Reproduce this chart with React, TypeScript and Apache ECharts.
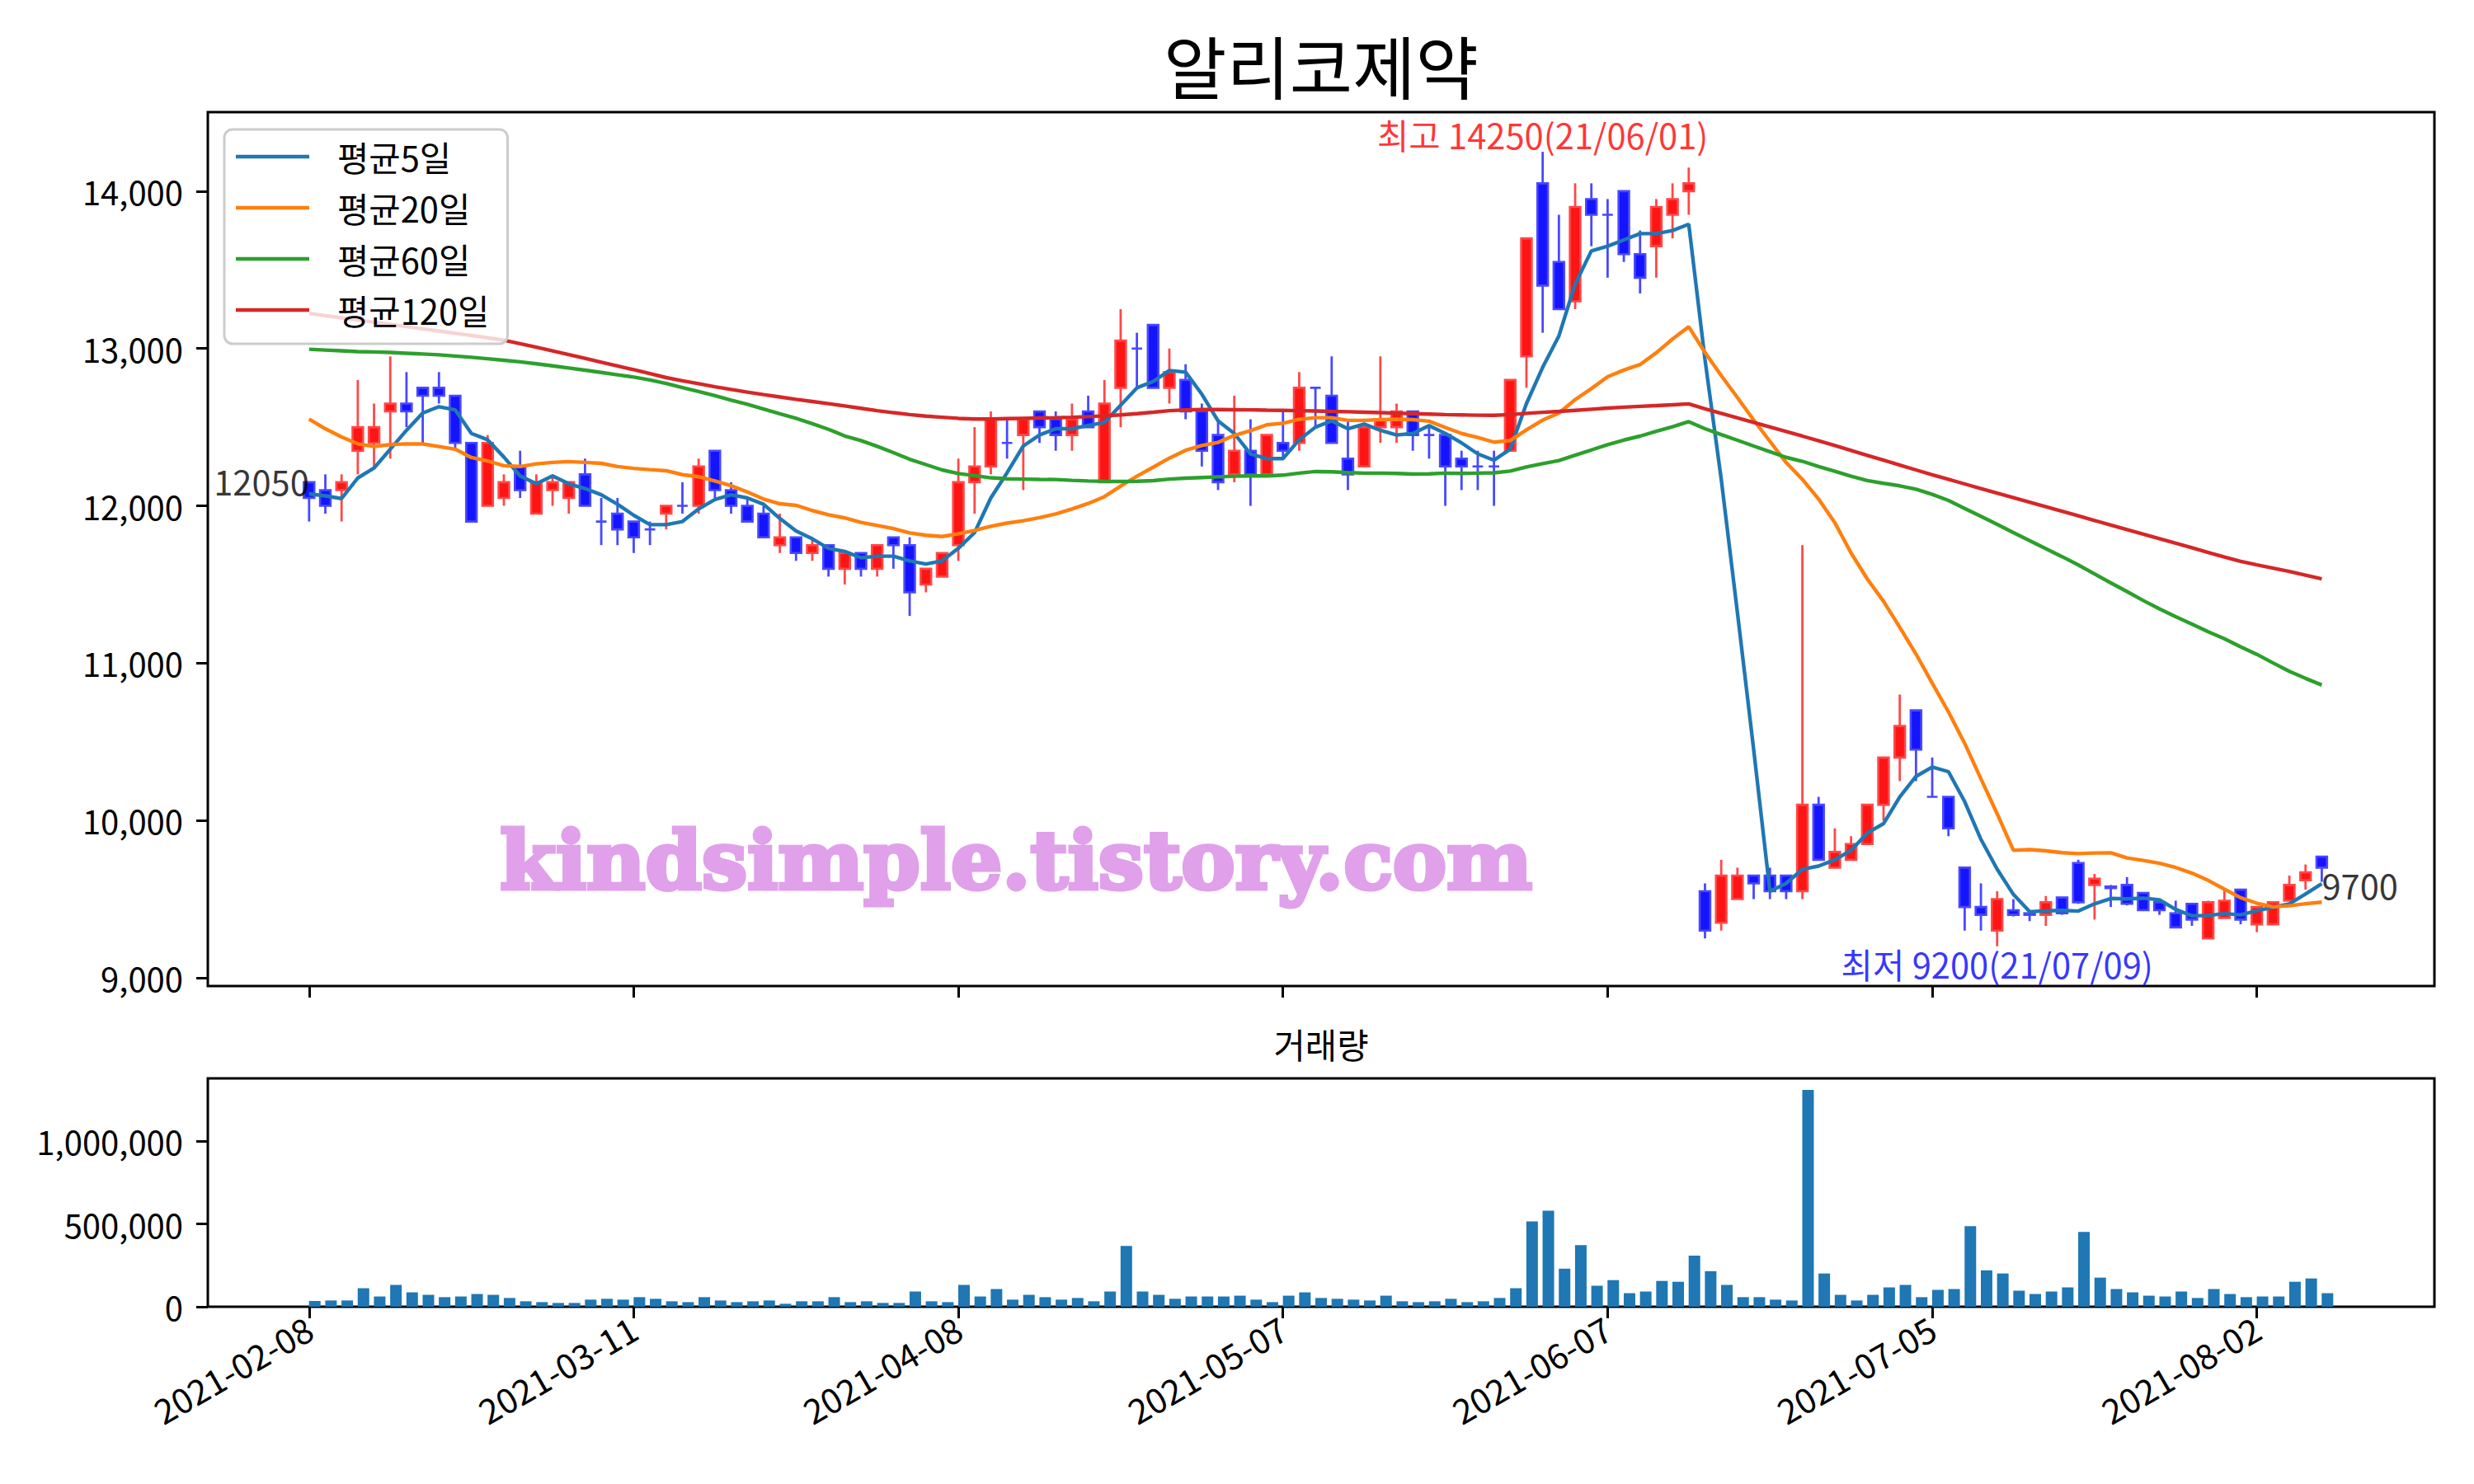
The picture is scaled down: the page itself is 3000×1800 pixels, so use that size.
import React, { useEffect, useRef } from "react";
import * as echarts from "echarts";

const dates = [
  "2021-02-08","2021-02-09","2021-02-10","2021-02-15","2021-02-16","2021-02-17","2021-02-18","2021-02-19","2021-02-22","2021-02-23",
  "2021-02-24","2021-02-25","2021-02-26","2021-03-02","2021-03-03","2021-03-04","2021-03-05","2021-03-08","2021-03-09","2021-03-10",
  "2021-03-11","2021-03-12","2021-03-15","2021-03-16","2021-03-17","2021-03-18","2021-03-19","2021-03-22","2021-03-23","2021-03-24",
  "2021-03-25","2021-03-26","2021-03-29","2021-03-30","2021-03-31","2021-04-01","2021-04-02","2021-04-05","2021-04-06","2021-04-07",
  "2021-04-08","2021-04-09","2021-04-12","2021-04-13","2021-04-14","2021-04-15","2021-04-16","2021-04-19","2021-04-20","2021-04-21",
  "2021-04-22","2021-04-23","2021-04-26","2021-04-27","2021-04-28","2021-04-29","2021-04-30","2021-05-03","2021-05-04","2021-05-06",
  "2021-05-07","2021-05-10","2021-05-11","2021-05-12","2021-05-13","2021-05-14","2021-05-17","2021-05-18","2021-05-20","2021-05-21",
  "2021-05-24","2021-05-25","2021-05-26","2021-05-27","2021-05-28","2021-05-31","2021-06-01","2021-06-02","2021-06-03","2021-06-04",
  "2021-06-07","2021-06-08","2021-06-09","2021-06-10","2021-06-11","2021-06-14","2021-06-15","2021-06-16","2021-06-17","2021-06-18",
  "2021-06-21","2021-06-22","2021-06-23","2021-06-24","2021-06-25","2021-06-28","2021-06-29","2021-06-30","2021-07-01","2021-07-02",
  "2021-07-05","2021-07-06","2021-07-07","2021-07-08","2021-07-09","2021-07-12","2021-07-13","2021-07-14","2021-07-15","2021-07-16",
  "2021-07-19","2021-07-20","2021-07-21","2021-07-22","2021-07-23","2021-07-26","2021-07-27","2021-07-28","2021-07-29","2021-07-30",
  "2021-08-02","2021-08-03","2021-08-04","2021-08-05","2021-08-06"
];

const opens = [
  12150,12100,12100,12350,12400,12600,12650,12750,12750,12700,
  12400,12000,12050,12250,11950,12100,12050,12200,11900,11950,
  11900,11850,11950,12000,12000,12350,12100,12000,11950,11750,
  11800,11700,11750,11600,11700,11600,11800,11750,11500,11550,
  11750,12150,12250,12400,12450,12600,12550,12450,12600,12150,
  12750,13000,13150,12750,12800,12600,12450,12200,12350,12200,
  12400,12400,12750,12700,12300,12250,12500,12500,12600,12450,
  12450,12300,12250,12250,12350,12950,14050,13550,13300,13950,
  13850,14000,13600,13650,13850,14000,9550,9350,9500,9650,
  9650,9650,9550,10100,9700,9750,9850,10100,10400,10700,
  10150,10150,9700,9450,9300,9430,9410,9400,9510,9730,
  9590,9580,9590,9540,9480,9410,9470,9250,9380,9560,
  9340,9340,9490,9620,9770
];

const highs = [
  12150,12200,12200,12800,12650,12950,12850,12750,12850,12700,
  12400,12450,12200,12350,12200,12200,12150,12300,12050,12050,
  11900,11900,12000,12150,12300,12350,12150,12050,12000,11950,
  11800,11800,11750,11700,11700,11750,11800,11800,11600,11700,
  12300,12500,12600,12550,12550,12600,12600,12650,12700,12800,
  13250,13100,13150,13000,12900,12650,12550,12700,12550,12450,
  12600,12850,12750,12950,12550,12500,12950,12650,12600,12500,
  12450,12350,12350,12350,12800,13700,14250,13850,14050,14050,
  13950,14000,13750,13950,14050,14150,9600,9750,9700,9650,
  9700,9650,11750,10150,9950,9900,10100,10400,10800,10700,
  10400,10150,9700,9600,9550,9500,9430,9520,9510,9750,
  9660,9590,9640,9540,9480,9490,9470,9490,9560,9560,
  9450,9480,9650,9720,9770
];

const lows = [
  11900,11950,11900,12200,12250,12300,12500,12400,12650,12350,
  11900,12000,12000,12050,11950,12000,11950,12000,11750,11750,
  11700,11750,11850,11950,11950,12050,11950,11900,11800,11700,
  11650,11650,11550,11500,11550,11550,11600,11300,11450,11550,
  11650,11950,12200,12300,12100,12400,12350,12350,12500,12150,
  12500,12750,12750,12650,12550,12250,12100,12150,12000,12200,
  12300,12350,12500,12400,12100,12250,12400,12400,12350,12300,
  12000,12100,12100,12000,12350,12750,13100,13250,13250,13650,
  13450,13550,13350,13450,13700,13850,9250,9300,9500,9500,
  9500,9500,9500,9750,9700,9750,9850,10000,10250,10250,
  10150,9900,9300,9300,9200,9390,9360,9330,9400,9470,
  9370,9450,9460,9430,9400,9320,9330,9250,9380,9340,
  9290,9340,9490,9560,9610
];

const closes = [
  12050,12000,12150,12500,12500,12650,12600,12700,12700,12400,
  11900,12400,12150,12100,12150,12150,12150,12000,11900,11850,
  11800,11850,12000,12000,12250,12100,12000,11900,11800,11800,
  11700,11750,11600,11700,11600,11750,11750,11450,11600,11700,
  12150,12250,12550,12400,12550,12500,12450,12550,12500,12650,
  13050,13000,12750,12850,12600,12350,12150,12350,12200,12450,
  12350,12750,12750,12400,12200,12500,12550,12600,12450,12450,
  12250,12250,12250,12250,12800,13700,13400,13250,13900,13850,
  13850,13600,13450,13900,13950,14050,9300,9650,9650,9600,
  9550,9550,10100,9750,9800,9850,10100,10400,10600,10450,
  10150,9950,9450,9400,9500,9400,9400,9480,9410,9480,
  9630,9570,9470,9430,9430,9320,9370,9480,9490,9370,
  9450,9480,9590,9670,9700
];

const volumes = [
  35000,38000,38000,112000,62000,132000,87000,72000,58000,62000,
  77000,72000,53000,33000,28000,23000,23000,43000,48000,43000,
  58000,48000,33000,28000,58000,38000,28000,33000,38000,18000,
  33000,33000,58000,28000,33000,23000,23000,92000,33000,28000,
  132000,62000,107000,43000,72000,58000,43000,53000,33000,92000,
  368000,92000,72000,48000,62000,62000,62000,67000,43000,28000,
  67000,87000,53000,48000,43000,38000,67000,33000,28000,33000,
  48000,28000,33000,53000,112000,516000,581000,230000,373000,127000,
  161000,82000,92000,156000,151000,309000,215000,132000,58000,58000,
  43000,38000,1310000,201000,72000,38000,72000,117000,132000,58000,
  102000,107000,487000,220000,201000,97000,77000,92000,117000,452000,
  176000,107000,87000,67000,62000,92000,53000,107000,77000,58000,
  62000,62000,151000,171000,82000
];

const ma5 = [
  12076,12063,12046,12177,12240,12360,12480,12590,12630,12610,
  12460,12420,12310,12190,12140,12190,12140,12110,12070,12010,
  11940,11880,11880,11900,11980,12040,12070,12050,12010,11920,
  11840,11790,11730,11710,11670,11680,11680,11650,11630,11650,
  11730,11830,12050,12210,12380,12450,12490,12490,12510,12530,
  12640,12750,12790,12860,12850,12710,12540,12460,12330,12300,
  12300,12420,12500,12540,12490,12520,12480,12450,12460,12510,
  12460,12400,12330,12290,12360,12650,12880,13080,13410,13620,
  13650,13690,13730,13730,13750,13790,12930,12170,11320,10450,
  9550,9600,9690,9710,9750,9810,9920,9980,10150,10280,
  10340,10310,10120,9880,9690,9530,9420,9426,9428,9424,
  9470,9504,9502,9506,9496,9434,9394,9396,9408,9400,
  9426,9448,9470,9532,9598
];

const ma20 = [
  12551,12490,12438,12394,12377,12389,12394,12393,12377,12360,
  12307,12285,12255,12250,12267,12276,12281,12276,12270,12250,
  12238,12230,12223,12198,12185,12158,12128,12088,12043,12013,
  12003,11970,11943,11923,11895,11875,11855,11828,11813,11805,
  11823,11843,11870,11890,11905,11925,11948,11980,12015,12058,
  12125,12188,12245,12303,12353,12383,12403,12448,12478,12515,
  12525,12550,12560,12560,12543,12543,12548,12550,12548,12538,
  12498,12460,12435,12405,12415,12483,12545,12590,12675,12745,
  12820,12863,12898,12973,13060,13138,12975,12828,12688,12545,
  12410,12275,12168,12043,11893,11700,11535,11393,11228,11058,
  10873,10690,10490,10265,10043,9810,9815,9807,9795,9789,
  9793,9794,9762,9746,9728,9701,9665,9619,9563,9509,
  9474,9451,9458,9471,9481
];

const ma60 = [
  12995,12990,12985,12980,12978,12975,12970,12965,12960,12952,
  12944,12935,12925,12915,12903,12890,12876,12862,12848,12833,
  12818,12800,12778,12752,12726,12700,12672,12645,12615,12585,
  12556,12522,12486,12444,12415,12378,12338,12296,12262,12228,
  12205,12192,12178,12172,12170,12168,12167,12162,12158,12156,
  12155,12156,12160,12170,12176,12180,12184,12188,12190,12190,
  12195,12208,12218,12216,12211,12208,12208,12206,12202,12203,
  12208,12206,12208,12210,12221,12247,12268,12288,12322,12355,
  12389,12418,12443,12474,12503,12535,12490,12453,12417,12380,
  12344,12308,12283,12250,12220,12188,12161,12143,12127,12106,
  12073,12034,11983,11933,11882,11830,11779,11728,11677,11624,
  11567,11510,11455,11398,11345,11295,11248,11200,11155,11104,
  11056,11001,10948,10903,10861
];

const ma120 = [
  13223,13209,13195,13181,13167,13153,13139,13125,13111,13097,
  13083,13068,13053,13031,13008,12985,12961,12937,12913,12889,
  12865,12840,12815,12795,12776,12757,12740,12723,12707,12692,
  12677,12663,12649,12635,12620,12605,12592,12580,12570,12563,
  12556,12552,12552,12554,12556,12558,12560,12563,12567,12572,
  12578,12586,12595,12605,12610,12612,12612,12611,12610,12608,
  12607,12605,12603,12600,12598,12595,12592,12589,12586,12583,
  12580,12578,12576,12575,12580,12588,12594,12600,12607,12614,
  12621,12627,12632,12637,12642,12648,12617,12588,12559,12530,
  12501,12472,12443,12413,12383,12352,12321,12290,12259,12228,
  12197,12168,12139,12110,12081,12052,12023,11994,11965,11936,
  11907,11878,11849,11820,11791,11762,11733,11704,11675,11647,
  11625,11604,11583,11559,11536
];

const maNames = ["평균5일", "평균20일", "평균60일", "평균120일"];
const maColors = ["#1f77b4", "#ff7f0e", "#2ca02c", "#d62728"];
const tickIndex = [0, 20, 40, 60, 80, 100, 120];
const priceTicks = [9000, 10000, 11000, 12000, 13000, 14000];
const volumeTicks = [0, 500000, 1000000];
const chartTitle = "알리코제약";
const volumeTitle = "거래량";
const watermark = "kindsimple.tistory.com";

const FONT = "'Noto Sans CJK KR', 'Noto Sans', sans-serif";
const BAR_SHIFT = 0.35; // volume bars are edge-aligned (left edge at the date)
const BODY_W = 0.65;
const X_MIN = -6.24;
const X_MAX = 130.94;

function fmt(v: number) {
  return Math.round(v).toLocaleString("en-US");
}
function shortDate(d: string) {
  return d.slice(2).replace(/-/g, "/");
}

export default function App() {
  const ref = useRef<HTMLDivElement>(null);

  useEffect(() => {
    const chart = echarts.init(ref.current!, null, { renderer: "svg" });

    let maxIdx = 0;
    let minIdx = 0;
    highs.forEach((h, i) => { if (h > highs[maxIdx]) maxIdx = i; });
    lows.forEach((l, i) => { if (l < lows[minIdx]) minIdx = i; });
    const last = closes.length - 1;

    const candleData = dates.map((_, i) => [i, opens[i], closes[i], lows[i], highs[i]]);
    const maArrays = [ma5, ma20, ma60, ma120];

    const tickStyle = { show: true, length: 14, inside: false, lineStyle: { width: 3, color: "#000" } };

    const option: any = {
      animation: false,
      backgroundColor: "#ffffff",
      textStyle: { fontFamily: FONT },
      title: [
        {
          text: chartTitle, left: 1602, top: 28, textAlign: "center", padding: 0,
          textStyle: { fontSize: 83, fontWeight: "normal", color: "#000", fontFamily: FONT, lineHeight: 100 },
        },
        {
          text: volumeTitle, left: 1602, top: 1241, textAlign: "center", padding: 0,
          textStyle: { fontSize: 41.7, fontWeight: "normal", color: "#000", fontFamily: FONT, lineHeight: 50 },
        },
      ],
      legend: {
        data: maNames, orient: "vertical", left: 272, top: 157,
        padding: [12, 22, 20, 14], itemWidth: 89, itemHeight: 4.5, itemGap: 20,
        icon: "rect", selectedMode: false,
        backgroundColor: "rgba(255,255,255,0.8)", borderColor: "#cccccc", borderWidth: 3, borderRadius: 10,
        textStyle: { fontSize: 41.7, fontFamily: FONT, color: "#000", lineHeight: 42, padding: [0, 0, 0, 29] },
      },
      grid: [
        { left: 252, top: 136, width: 2700, height: 1060, show: true, borderColor: "#000", borderWidth: 3, backgroundColor: "transparent" },
        { left: 252, top: 1308, width: 2700, height: 277, show: true, borderColor: "#000", borderWidth: 3, backgroundColor: "transparent" },
      ],
      xAxis: [
        {
          type: "value", gridIndex: 0, min: X_MIN, max: X_MAX, position: "bottom",
          axisLine: { show: false, onZero: false }, splitLine: { show: false },
          axisTick: { ...tickStyle, customValues: tickIndex },
          axisLabel: { show: false },
        },
        {
          type: "value", gridIndex: 1, min: X_MIN, max: X_MAX, position: "bottom",
          axisLine: { show: false, onZero: false }, splitLine: { show: false },
          axisTick: { ...tickStyle, customValues: tickIndex },
          axisLabel: {
            show: true, customValues: tickIndex, rotate: 30, margin: 22,
            formatter: (v: number) => dates[Math.round(v)] ?? "",
            fontSize: 41.7, color: "#000", fontFamily: FONT,
          },
        },
      ],
      yAxis: [
        {
          type: "value", gridIndex: 0, min: 8947.5, max: 14502.5, position: "left",
          axisLine: { show: false, onZero: false }, splitLine: { show: false },
          axisTick: { ...tickStyle, customValues: priceTicks },
          axisLabel: { show: true, customValues: priceTicks, formatter: (v: number) => fmt(v), fontSize: 40, color: "#000", margin: 30, fontFamily: FONT },
        },
        {
          type: "value", gridIndex: 1, min: 0, max: 1380000, position: "left",
          axisLine: { show: false, onZero: false }, splitLine: { show: false },
          axisTick: { ...tickStyle, customValues: volumeTicks },
          axisLabel: { show: true, customValues: volumeTicks, formatter: (v: number) => fmt(v), fontSize: 40, color: "#000", margin: 30, fontFamily: FONT },
        },
      ],
      graphic: [
        {
          type: "text", x: 1232, y: 1043, z: 100,
          style: {
            text: watermark, fill: "#e0a0ea", stroke: "#e0a0ea", lineWidth: 5,
            textAlign: "center", textVerticalAlign: "middle",
            font: "bold 98px 'DejaVu Serif', serif",
          },
        },
      ],
      series: [
        {
          type: "custom", name: "candles", xAxisIndex: 0, yAxisIndex: 0, z: 2,
          data: candleData, encode: { x: 0, y: [1, 2, 3, 4] },
          renderItem: (params: any, api: any) => {
            const x = api.value(0);
            const o = api.value(1);
            const c = api.value(2);
            const l = api.value(3);
            const h = api.value(4);
            const up = c > o;
            const pO = api.coord([x, o]);
            const pC = api.coord([x, c]);
            const pL = api.coord([x, l]);
            const pH = api.coord([x, h]);
            const w = api.size([BODY_W, 0])[0];
            const top = Math.min(pO[1], pC[1]);
            const hh = Math.abs(pO[1] - pC[1]);
            const fill = up ? "#ff1414" : "#1414ff";
            const edge = up ? "#ff4848" : "#4848ff";
            return {
              type: "group",
              children: [
                { type: "line", shape: { x1: pH[0], y1: pH[1], x2: pL[0], y2: pL[1] }, style: { stroke: edge, lineWidth: 2.8 } },
                { type: "rect", shape: { x: pO[0] - w / 2, y: top, width: w, height: hh }, style: { fill, stroke: edge, lineWidth: 2.6 } },
              ],
            };
          },
        },
        ...maArrays.map((arr, k) => ({
          type: "line", name: maNames[k], xAxisIndex: 0, yAxisIndex: 0, z: 3,
          data: arr.map((v, i) => [i, v]),
          showSymbol: false, symbol: "none",
          lineStyle: { width: 4.4, color: maColors[k] }, itemStyle: { color: maColors[k] },
        })),
        {
          type: "scatter", name: "labels", xAxisIndex: 0, yAxisIndex: 0, z: 5, symbolSize: 0,
          data: [
            {
              value: [maxIdx, highs[maxIdx]],
              label: { show: true, position: [0, 0], align: "center", verticalAlign: "bottom", color: "#ff0000",
                formatter: `최고 ${highs[maxIdx]}(${shortDate(dates[maxIdx])})` },
            },
            {
              value: [minIdx, lows[minIdx]],
              label: { show: true, position: [0, 0], align: "center", verticalAlign: "top", color: "#0000ff",
                formatter: `최저 ${lows[minIdx]}(${shortDate(dates[minIdx])})` },
            },
            {
              value: [0, closes[0]],
              label: { show: true, position: [0, 0], align: "right", verticalAlign: "bottom", color: "#000",
                formatter: `${closes[0]}` },
            },
            {
              value: [last, closes[last]],
              label: { show: true, position: [0, 0], align: "left", verticalAlign: "top", color: "#000",
                formatter: `${closes[last]}` },
            },
          ],
          label: { fontSize: 41.7, fontFamily: FONT },
        },
        {
          type: "bar", name: "volume", xAxisIndex: 1, yAxisIndex: 1, barWidth: 14,
          data: volumes.map((v, i) => [i + BAR_SHIFT, v]),
          itemStyle: { color: "#1f77b4" },
        },
      ],
    };

    chart.setOption(option);
    return () => chart.dispose();
  }, []);

  return (
    <div
      ref={ref}
      style={{ position: "fixed", left: 0, top: 0, width: 3000, height: 1800, background: "#fff" }}
    />
  );
}
